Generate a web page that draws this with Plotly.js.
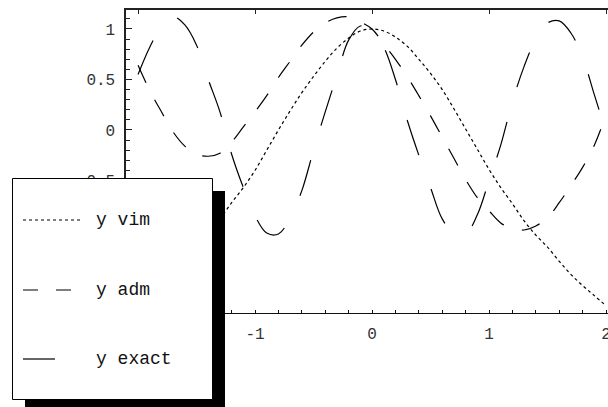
<!DOCTYPE html>
<html><head><meta charset="utf-8">
<script src="https://cdn.plot.ly/plotly-3.0.1.min.js"></script>
<style>html,body{margin:0;padding:0;background:#fff;}#chart{width:608px;height:407px;}</style>
</head><body><div id="chart"></div>
<script>
const xVals = [-2.0,-1.9,-1.8,-1.7,-1.6,-1.5,-1.4,-1.3,-1.2,-1.1,-1.0,-0.9,-0.8,-0.7,-0.6,-0.5,-0.4,-0.3,-0.2,-0.1,0.0,
               0.1,0.2,0.3,0.4,0.5,0.6,0.7,0.8,0.9,1.0,1.1,1.2,1.3,1.4,1.5,1.6,1.7,1.8,1.9,2.0];
const yVim = [-1.75,-1.64,-1.53,-1.42,-1.29,-1.16,-1.03,-0.88,-0.72,-0.57,-0.40,-0.20,0.00,0.19,0.37,0.53,0.68,0.81,0.91,0.98,1.00,
              0.98,0.92,0.83,0.70,0.56,0.40,0.21,0.01,-0.19,-0.39,-0.57,-0.73,-0.90,-1.04,-1.16,-1.30,-1.43,-1.54,-1.64,-1.74];
const yAdm = [0.64,0.39,0.18,-0.02,-0.16,-0.24,-0.26,-0.23,-0.12,0.03,0.18,0.34,0.52,0.68,0.84,0.97,1.06,1.11,1.12,1.07,1.00,
              0.85,0.70,0.53,0.34,0.14,-0.07,-0.28,-0.49,-0.67,-0.80,-0.92,-0.98,-0.99,-0.95,-0.87,-0.72,-0.55,-0.37,-0.15,0.15];
const yExact = [0.55,0.82,1.02,1.12,1.04,0.84,0.50,0.18,-0.24,-0.57,-0.85,-1.02,-1.03,-0.87,-0.60,-0.20,0.18,0.54,0.89,1.03,0.99,
                0.82,0.50,0.10,-0.25,-0.57,-0.88,-1.02,-1.03,-0.84,-0.50,-0.15,0.28,0.63,0.90,1.06,1.08,0.96,0.72,0.35,-0.02];
const seriesNames = ['y vim','y adm','y exact'];
const xTickVals = [-2,-1,0,1,2];
const xTickText = ['-2','-1','0','1','2'];
const yTickVals = [-1.5,-1,-0.5,0,0.5,1];
const yTickText = ['','','-0.5','0','0.5','1'];

const W=608,H=407,L=126,R=0,T=10,B=94;
const pw=W-L-R, ph=H-T-B;
const px = v => (v-L)/pw;
const py = v => (H-B-v)/ph;
const mono = 'Liberation Mono, Courier New, monospace';

const traces = [
  {x:xVals,y:yVim,name:seriesNames[0],mode:'lines',line:{color:'#000',width:1.2,dash:'3px,3px',shape:'spline'}},
  {x:xVals,y:yAdm,name:seriesNames[1],mode:'lines',line:{color:'#000',width:1.2,dash:'19px,19px',shape:'spline'}},
  {x:xVals,y:yExact,name:seriesNames[2],mode:'lines',line:{color:'#000',width:1.2,dash:'37px,36px',shape:'spline'}},
  {x:xVals,y:yVim,xaxis:'x2',mode:'lines',line:{width:0},opacity:0,hoverinfo:'skip',showlegend:false}
];

const layout = {
  width:W,height:H,margin:{l:L,r:R,t:T,b:B,pad:0},
  paper_bgcolor:'#fff',plot_bgcolor:'#fff',showlegend:false,
  font:{family:mono,size:16,color:'#333'},
  xaxis:{range:[-2.103,2.017],showgrid:false,zeroline:false,showline:true,linecolor:'#111',linewidth:1.2,
         ticks:'inside',ticklen:3,tickcolor:'#111',tickwidth:1,tickmode:'array',tickvals:xTickVals,ticktext:xTickText,
         minor:{tickmode:'linear',tick0:0,dtick:0.2,ticks:'inside',ticklen:3,tickcolor:'#111',tickwidth:1,showgrid:false},
         ticklabelstandoff:6,ticklabeloverflow:'allow'},
  xaxis2:{overlaying:'x',side:'top',anchor:'y',range:[-2.103,2.017],showgrid:false,zeroline:false,showline:true,
          linecolor:'#222',linewidth:1.6,ticks:'inside',ticklen:4,tickcolor:'#222',tickmode:'array',tickvals:xTickVals,
          showticklabels:false},
  yaxis:{range:[-1.812,1.188],showgrid:false,zeroline:false,showline:true,linecolor:'#222',linewidth:1.6,
         ticks:'inside',ticklen:6,tickcolor:'#222',tickwidth:1,tickmode:'array',tickvals:yTickVals,ticktext:yTickText,
         minor:{tickmode:'linear',tick0:0,dtick:0.1,ticks:'inside',ticklen:4,tickcolor:'#222',tickwidth:1,showgrid:false},
         ticklabelstandoff:6},
  shapes:[
    {type:'rect',xref:'paper',yref:'paper',x0:px(25),x1:px(225),y0:py(191),y1:py(412),fillcolor:'#000',line:{width:0},layer:'above'},
    {type:'rect',xref:'paper',yref:'paper',x0:px(12.5),x1:px(212.5),y0:py(178.5),y1:py(399.5),fillcolor:'#fff',line:{color:'#000',width:1},layer:'above'},
    {type:'line',xref:'paper',yref:'paper',x0:px(23),x1:px(83),y0:py(220),y1:py(220),line:{color:'#000',width:1.2,dash:'3px,3px'},layer:'above'},
    {type:'line',xref:'paper',yref:'paper',x0:px(23),x1:px(72),y0:py(290),y1:py(290),line:{color:'#000',width:1.2,dash:'15px,18px'},layer:'above'},
    {type:'line',xref:'paper',yref:'paper',x0:px(23),x1:px(55),y0:py(359),y1:py(359),line:{color:'#000',width:1.2},layer:'above'}
  ],
  annotations:[220,290,359].map((yy,i)=>({xref:'paper',yref:'paper',x:px(94),y:py(yy),xanchor:'left',yanchor:'middle',
     text:seriesNames[i],showarrow:false,font:{family:mono,size:18,color:'#111'}}))
};
Plotly.newPlot('chart',traces,layout,{displayModeBar:false,staticPlot:true});
</script></body></html>
